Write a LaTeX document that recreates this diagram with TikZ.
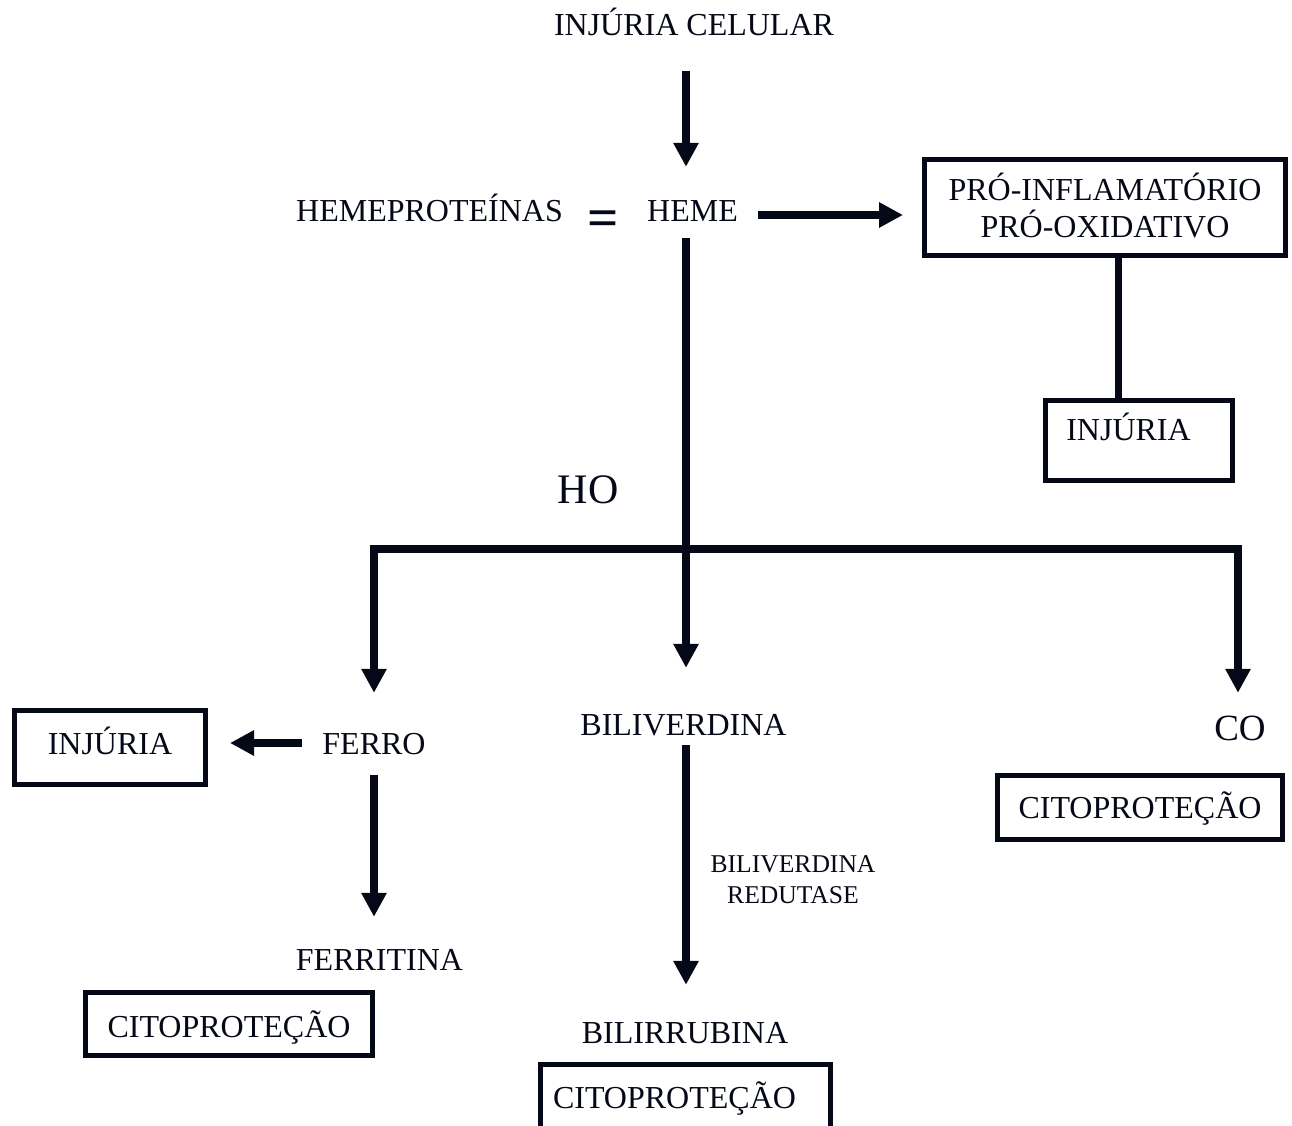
\documentclass[tikz,border=0pt]{standalone}
\usepackage{fontspec}
\setmainfont{Liberation Serif}
\usetikzlibrary{arrows.meta,calc}
\definecolor{ink}{RGB}{5,8,22}
\begin{document}
\begin{tikzpicture}[x=1pt,y=-1pt,
  every node/.style={inner sep=0pt, text=ink, font=\fontsize{32}{37}\selectfont},
  lbl/.style={anchor=base, text height=22pt, text depth=0pt},
  box/.style={draw=ink, line width=5pt, text height=22pt, align=center},
  arr/.style={draw=ink, line width=8pt, -{Triangle[length=24pt,width=24pt]}},
  bar/.style={draw=ink, line width=8pt},
]
\fill[white] (0,0) rectangle (1292,1126);
\useasboundingbox (0,0) rectangle (1292,1126);

\node[lbl] (title) at (694,36) {INJÚRIA CELULAR};
\node[lbl] (hemep) at (429.5,222) {HEMEPROTEÍNAS};
\node[anchor=base, font=\fontsize{55}{60}\selectfont\bfseries] (eq) at (603.5,236) {=};
\node[lbl] (heme) at (692.5,222) {HEME};
\node[box, minimum width=361pt, minimum height=96pt, text height=59pt, text depth=0pt] (pro) at (1105,207.5) {PRÓ-INFLAMATÓRIO\\PRÓ-OXIDATIVO};
\node[box, minimum width=187pt, minimum height=80pt, text height=22pt, text depth=23pt] (injr) at (1139,440.5) {INJÚRIA\hspace*{21pt}};
\node[anchor=base, font=\fontsize{42}{48}\selectfont] (ho) at (588,503) {HO};
\node[lbl] (ferro) at (374,754) {FERRO};
\node[lbl] (biliv) at (683.5,735) {BILIVERDINA};
\node[anchor=base, text height=24pt, text depth=0pt, font=\fontsize{37}{42}\selectfont] (co) at (1240,740) {CO};
\node[box, minimum width=191pt, minimum height=74pt, text depth=9pt] (injl) at (110,747.5) {INJÚRIA};
\node[box, minimum width=285pt, minimum height=64pt, text depth=1pt] (cito3) at (1140,807.5) {CITOPROTEÇÃO};
\node[align=center, font=\fontsize{25.6}{31}\selectfont, text height=48pt, text depth=0pt] (redut) at (793,879) {BILIVERDINA\\REDUTASE};
\node[lbl] (ferrit) at (379.5,970) {FERRITINA};
\node[box, minimum width=287pt, minimum height=63pt, text height=26pt, text depth=0pt] (cito1) at (229,1024) {CITOPROTEÇÃO};
\node[lbl] (bilir) at (685,1043) {BILIRRUBINA};
\node[box, minimum width=290pt, minimum height=64pt, text height=23pt, text depth=0pt] (cito2) at (685.5,1096.5) {CITOPROTEÇÃO\hspace*{22pt}};

\coordinate (trunk) at (686,0);
\coordinate (barL) at (374,549);
\coordinate (barR) at (1238,549);
\coordinate (drop) at (1118,0);

\draw[arr, shorten <=35pt, shorten >=33pt] (title.south -| trunk) -- (heme.north -| trunk);
\draw[arr, shorten <=20pt, shorten >=19pt] ([yshift=-4pt]heme.east) -- ([yshift=-4pt]heme.east -| pro.west);
\draw[arr, shorten <=16pt, shorten >=45pt] (heme.south -| trunk) -- (biliv.north -| trunk);
\draw[bar] ([xshift=-4pt]barL) -- ([xshift=4pt]barR);
\draw[arr, shorten >=39pt] (barL) -- (barL |- ferro.north);
\draw[arr, shorten >=23pt] (barR) -- (barR |- co.north);
\draw[draw=ink, line width=7pt] (pro.south -| drop) -- (injr.north -| drop);
\draw[arr, shorten <=20pt, shorten >=22pt] (ferro.west) -- (injl.east |- ferro.west);
\draw[arr, shorten <=21pt, shorten >=31pt] (ferro.south) -- (ferro.south |- ferrit.north);
\draw[arr, shorten <=10pt, shorten >=36pt] (biliv.south -| trunk) -- (bilir.north -| trunk);
\end{tikzpicture}
\end{document}
